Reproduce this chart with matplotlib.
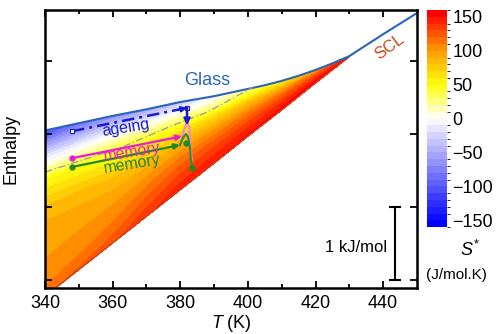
import numpy as np
import matplotlib
matplotlib.use("Agg")
import matplotlib.pyplot as plt
from matplotlib.colors import LinearSegmentedColormap, BoundaryNorm
from matplotlib.cm import ScalarMappable

plt.rcParams['font.family'] = ['Liberation Sans', 'DejaVu Sans']
plt.rcParams['mathtext.fontset'] = 'custom'
plt.rcParams['mathtext.it'] = 'Liberation Sans:italic'
plt.rcParams['mathtext.rm'] = 'Liberation Sans'

# --- data (T in K, H in kJ/mol, arbitrary zero) ---
# glass / liquid enthalpy line (blue)
glass_T = [340, 350, 360, 370, 380, 390, 400, 405, 410, 415, 420, 425, 430, 440, 450]
glass_H = [2.05, 2.15, 2.25, 2.34, 2.44, 2.52, 2.62, 2.67, 2.73, 2.80, 2.88, 2.97, 3.07, 3.37, 3.66]

# columns of the coloured S* map: lower edge (SCL) and upper edge (glass)
grid_T = [340, 350, 360, 370, 380, 390, 400, 410, 420, 430]
grid_scl = [-0.224, 0.141, 0.506, 0.871, 1.236, 1.60, 1.97, 2.33, 2.70, 3.06]
grid_glass = [2.05, 2.15, 2.25, 2.34, 2.44, 2.52, 2.62, 2.73, 2.88, 3.07]
# fraction of the way from SCL (0) to glass (1)
grid_frac = [0.0, 0.1, 0.3, 0.5, 0.7, 0.85, 1.0]
# S* (J/mol.K) per row of grid_frac, per column of grid_T
s_star = [
    [118, 122, 128, 138, 146, 150, 152, 154, 156, 158],
    [105, 110, 115, 128, 138, 142, 146, 149, 153, 156],
    [97, 98, 100, 108, 118, 125, 130, 137, 144, 152],
    [88, 86, 82, 85, 92, 100, 110, 120, 132, 148],
    [50, 50, 47, 48, 55, 65, 82, 98, 118, 145],
    [-20, -10, 0, 5, 10, 22, 50, 72, 102, 140],
    [-110, -85, -70, -55, -35, -5, 25, 55, 90, 135],
]

# grey dash-dot guide line
guide_T = [340, 362.2, 377.8, 387.9, 401.4]
guide_H = [1.48, 1.81, 2.12, 2.30, 2.64]

# ageing path (blue)
ageing_T = [348.0, 382.0]
ageing_H = [2.04, 2.36]
ageing_drop = [2.36, 2.12]

# memory paths: approach arrow and the loop after it
mag_T = [348.0, 380.5]
mag_H = [1.67, 1.97]
mag_loop_T = [380.5, 381.4, 382.0, 382.6, 382.9, 383.1, 383.4]
mag_loop_H = [1.97, 2.10, 2.16, 2.10, 1.92, 1.78, 1.64]

grn_T = [348.0, 379.9]
grn_H = [1.55, 1.85]
grn_loop_T = [379.9, 380.8, 381.7, 382.3, 382.9, 383.1, 383.4]
grn_loop_H = [1.85, 1.95, 2.00, 1.96, 1.81, 1.67, 1.53]

cbar_ticks = [-150, -100, -50, 0, 50, 100, 150]

# --- colours ---
c_glass = '#2a64bc'
c_scl = '#c8461e'
c_age = '#1a1ad0'
c_mag = '#e41ed2'
c_grn = '#1f8a22'

cmap = LinearSegmentedColormap.from_list('sstar', [
    (0.0, (0.0, 0.0, 1.0)),
    (10 / 320, (0.05, 0.05, 1.0)),
    (160 / 320, (1.0, 1.0, 1.0)),
    (210 / 320, (1.0, 1.0, 0.05)),
    (260 / 320, (1.0, 0.63, 0.0)),
    (290 / 320, (1.0, 0.32, 0.0)),
    (1.0, (1.0, 0.0, 0.0)),
])
levels = np.arange(-160, 161, 10)
norm = BoundaryNorm(levels, cmap.N)

fig = plt.figure(figsize=(4.96, 3.34), dpi=100)
ax = fig.add_axes([0.0907, 0.1377, 0.750, 0.832])
cax = fig.add_axes([0.861, 0.320, 0.040, 0.650])

# coloured map between the SCL and glass lines
TT = np.array([grid_T for _ in grid_frac], dtype=float)
scl = np.array(grid_scl)
gl = np.array(grid_glass)
HH = np.array([scl + f * (gl - scl) for f in grid_frac])
ax.contourf(TT, HH, np.array(s_star), levels=levels, cmap=cmap, norm=norm)

ax.plot(grid_T, grid_scl, color=c_scl, lw=1.0)
ax.plot(glass_T, glass_H, color=c_glass, lw=1.5)
ax.plot(guide_T, guide_H, color='#9a9a9a', lw=0.9, ls=(0, (6, 2, 1, 2)))

# ageing
ax.plot(ageing_T, ageing_H, color=c_age, lw=1.8, ls=(0, (5, 2, 1.2, 2)))
ax.annotate('', xy=(ageing_T[1], ageing_H[1]), xytext=(ageing_T[1] - 2.5, ageing_H[1] - 0.025),
            arrowprops=dict(arrowstyle='-|>', color=c_age, lw=1.5, mutation_scale=8,
                            shrinkA=0, shrinkB=0))
ax.annotate('', xy=(ageing_T[1], ageing_drop[1]), xytext=(ageing_T[1], ageing_drop[0]),
            arrowprops=dict(arrowstyle='-|>', color=c_age, lw=1.8, mutation_scale=9,
                            shrinkA=0, shrinkB=0))
ax.plot(ageing_T, ageing_H, 's', mfc='white', mec=c_age, mew=0.8, ms=3.5)

# memory (magenta)
ax.plot(mag_loop_T, mag_loop_H, color='#f08ad8', lw=1.6)
ax.annotate('', xy=(mag_T[1], mag_H[1]), xytext=(mag_T[0], mag_H[0]),
            arrowprops=dict(arrowstyle='-|>', color=c_mag, lw=1.6, mutation_scale=8,
                            shrinkA=0, shrinkB=0))
ax.plot(mag_T[0], mag_H[0], 'o', color=c_mag, ms=3.5)

# memory (green)
ax.plot(grn_loop_T, grn_loop_H, color='#3a8a3a', lw=1.6)
ax.annotate('', xy=(grn_T[1], grn_H[1]), xytext=(grn_T[0], grn_H[0]),
            arrowprops=dict(arrowstyle='-|>', color=c_grn, lw=1.6, mutation_scale=8,
                            shrinkA=0, shrinkB=0))
ax.plot([grn_T[0], grn_loop_T[2], grn_loop_T[-1]], [grn_H[0], grn_loop_H[2] - 0.12, grn_loop_H[-1]],
        'o', color=c_grn, ms=3.5)

# labels inside the plot
ax.text(363.9, 2.08, 'ageing', color=c_age, fontsize=11.5, rotation=9, ha='center', va='center')
ax.text(365.7, 1.75, 'memory', color=c_mag, fontsize=11.5, rotation=9, ha='center', va='center')
ax.text(365.7, 1.59, 'memory', color=c_grn, fontsize=11.5, rotation=9, ha='center', va='center')
ax.text(387.9, 2.74, 'Glass', color=c_glass, fontsize=13, ha='center', va='center')
ax.text(441.9, 3.2, 'SCL', color=c_scl, fontsize=12, rotation=36, ha='center', va='center')

# 1 kJ/mol scale bar
ax.errorbar([443.4], [0.5], yerr=[[0.5], [0.5]], color='black', lw=1.5, capsize=4, capthick=1.5)
ax.text(441.3, 0.45, '1 kJ/mol', fontsize=12, ha='right', va='center')

ax.set_xlim(340, 450)
ax.set_ylim(-0.11, 3.70)
ax.set_xticks(np.arange(340, 441, 20))
ax.set_xticks(np.arange(350, 450, 20), minor=True)
ax.set_yticks([0, 1, 2, 3])
ax.set_yticklabels([])
ax.tick_params(which='both', direction='in', top=True, right=True, width=1.3, labelsize=13, pad=5)
ax.tick_params(which='major', length=5)
ax.tick_params(which='minor', length=3)
for sp in ax.spines.values():
    sp.set_linewidth(1.8)
ax.set_xlabel(r'$T$ (K)', fontsize=13, labelpad=1)
ax.set_ylabel('Enthalpy', fontsize=13)
ax.yaxis.set_label_coords(-0.068, 0.5)

# colour bar
sm = ScalarMappable(norm=norm, cmap=cmap)
cb = fig.colorbar(sm, cax=cax, ticks=cbar_ticks)
cb.outline.set_visible(False)
cax.set_ylim(-160, 160)
cax.tick_params(length=0, labelsize=13, pad=4)
fig.text(0.948, 0.251, r'$S^{*}$', fontsize=13, ha='center', va='center')
fig.text(0.920, 0.177, '(J/mol.K)', fontsize=11, ha='center', va='center')

fig.savefig('out.png', dpi=100)
